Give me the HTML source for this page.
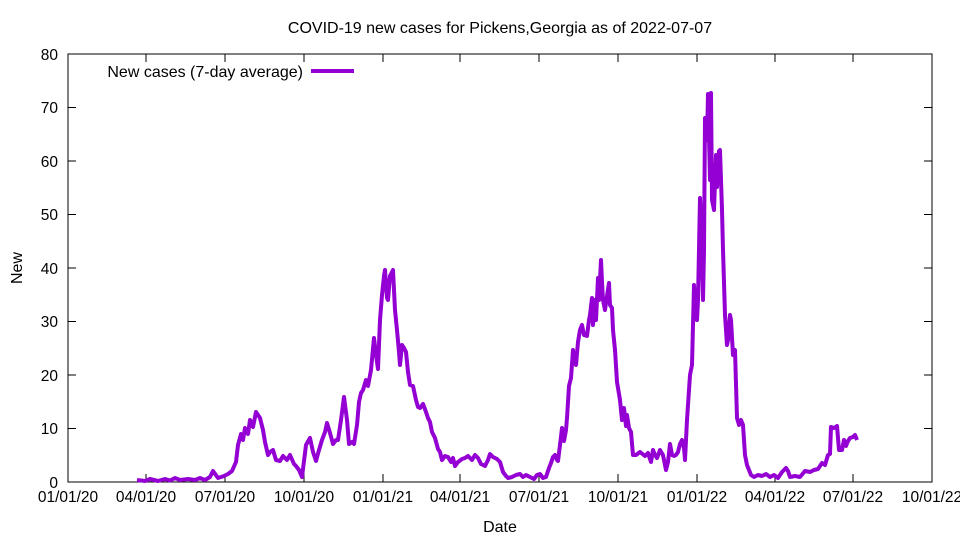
<!DOCTYPE html>
<html><head><meta charset="utf-8"><style>
body{margin:0;background:#fff}
svg{display:block;font-family:"Liberation Sans",sans-serif}
</style></head><body>
<svg width="960" height="540" viewBox="0 0 960 540" xmlns="http://www.w3.org/2000/svg">
<rect width="960" height="540" fill="#fff"/>
<text x="500" y="33" font-size="16" text-anchor="middle">COVID-19 new cases for Pickens,Georgia as of 2022-07-07</text>
<g stroke="#000" stroke-width="1" fill="none">
<rect x="68" y="54" width="864" height="428"/>
<path d="M68 482h8M932 482h-8M68 428.5h8M932 428.5h-8M68 375h8M932 375h-8M68 321.5h8M932 321.5h-8M68 268h8M932 268h-8M68 214.5h8M932 214.5h-8M68 161h8M932 161h-8M68 107.5h8M932 107.5h-8
M146 482v-8M146 54v8M225 482v-8M225 54v8M304 482v-8M304 54v8M383 482v-8M383 54v8M460 482v-8M460 54v8M539 482v-8M539 54v8M618 482v-8M618 54v8M697 482v-8M697 54v8M775 482v-8M775 54v8M853 482v-8M853 54v8"/>
</g>
<g font-size="15.5" text-anchor="end">
<text x="58" y="488">0</text><text x="58" y="434">10</text><text x="58" y="381">20</text><text x="58" y="327">30</text><text x="58" y="274">40</text><text x="58" y="220">50</text><text x="58" y="167">60</text><text x="58" y="113">70</text><text x="58" y="60">80</text>
</g>
<g font-size="15.5" text-anchor="middle">
<text x="68" y="502">01/01/20</text><text x="146" y="502">04/01/20</text><text x="225" y="502">07/01/20</text><text x="304" y="502">10/01/20</text><text x="383" y="502">01/01/21</text><text x="460" y="502">04/01/21</text><text x="539" y="502">07/01/21</text><text x="618" y="502">10/01/21</text><text x="697" y="502">01/01/22</text><text x="775" y="502">04/01/22</text><text x="853" y="502">07/01/22</text><text x="932" y="502">10/01/22</text>
</g>
<text x="500" y="532" font-size="16" text-anchor="middle">Date</text>
<text x="22" y="268" font-size="16" text-anchor="middle" transform="rotate(-90 22 268)">New</text>
<text x="303" y="77" font-size="16" text-anchor="end">New cases (7-day average)</text>
<line x1="311" y1="71" x2="354" y2="71" stroke="#9400d3" stroke-width="4"/>
<polyline fill="none" stroke="#9400d3" stroke-width="4" stroke-linejoin="round" points="
137,480 145,481 150,479 158,481 165,479 170,480.5 175,478 180,480 188,479 195,480 200,478 205,480 210,477 213,471 218,478 224,476 228,474 232,471 236,462 238,445 241,434 243,440 245,428 248,434 250,420 253,427 256,412 258,415 260,418 263,430 265,442 268,455 270,452 273,450 276,460 280,461 283,456 287,460 290,455 294,464 296,466 299,470 302,477 306,445 310,438 313,452 316,461 319,450 322,440 325,432 327,423 330,433 333,444 336,440 338,440 341,420 344,397 347,420 349,444 352,442 354,444 357,425 359,402 361,393 363,390 366,380 368,386 371,370 374,338 376,355 378,369 380,320 382,295 384,276 385,270 387,298 388,300 390,276 393,270 395,310 397,330 399,352 400,365 402,345 404,348 406,352 408,372 410,385 413,386 416,400 418,407 420,408 423,404 426,412 428,418 430,422 432,432 435,438 438,449 440,452 442,460 445,456 448,457 451,462 453,458 455,466 458,462 462,459 465,458 468,456 472,460 475,455 478,458 481,464 485,466 488,460 490,454 493,457 497,459 500,462 503,472 506,476 508,478 512,477 516,475 520,474 523,477 526,475 530,477 534,479 537,475 540,474 543,478 546,477 549,468 551,463 553,457 555,455 557,460 558,461 560,445 562,428 564,441 566,430 567,418 569,386 571,378 573,350 574,360 576,365 578,342 580,330 582,325 584,335 587,336 589,320 590,315 592,298 593,325 595,300 596,320 598,278 599,300 601,260 602,282 603,300 605,310 607,296 609,283 610,305 612,308 613,330 615,350 617,382 620,400 622,420 624,408 626,426 627,415 629,428 631,432 633,455 636,455 640,452 645,456 648,453 651,462 653,450 655,455 657,458 660,450 663,455 666,470 668,462 670,444 672,455 674,456 676,455 678,452 680,444 682,440 684,448 685,460 687,420 688,405 690,375 692,365 694,285 695,300 697,320 698,300 700,198 701,220 703,300 704,250 705,118 707,140 708,94 710,180 711,93 712,200 714,210 716,155 717,187 719,151 720,150 722,210 723,250 725,315 727,345 728,340 730,315 731,320 733,355 735,350 737,418 739,425 741,420 743,425 745,455 747,465 749,470 751,475 754,477 758,475 762,476 766,474 770,477 774,475 778,478 782,472 786,468 788,471 790,477 795,476 800,477 805,471 810,472 814,470 818,469 822,463 825,465 828,455 830,454 831,427 834,428 837,426 839,450 842,450 844,440 846,446 848,441 850,438 853,437 855,435 857,440"/>
</svg>
</body></html>
